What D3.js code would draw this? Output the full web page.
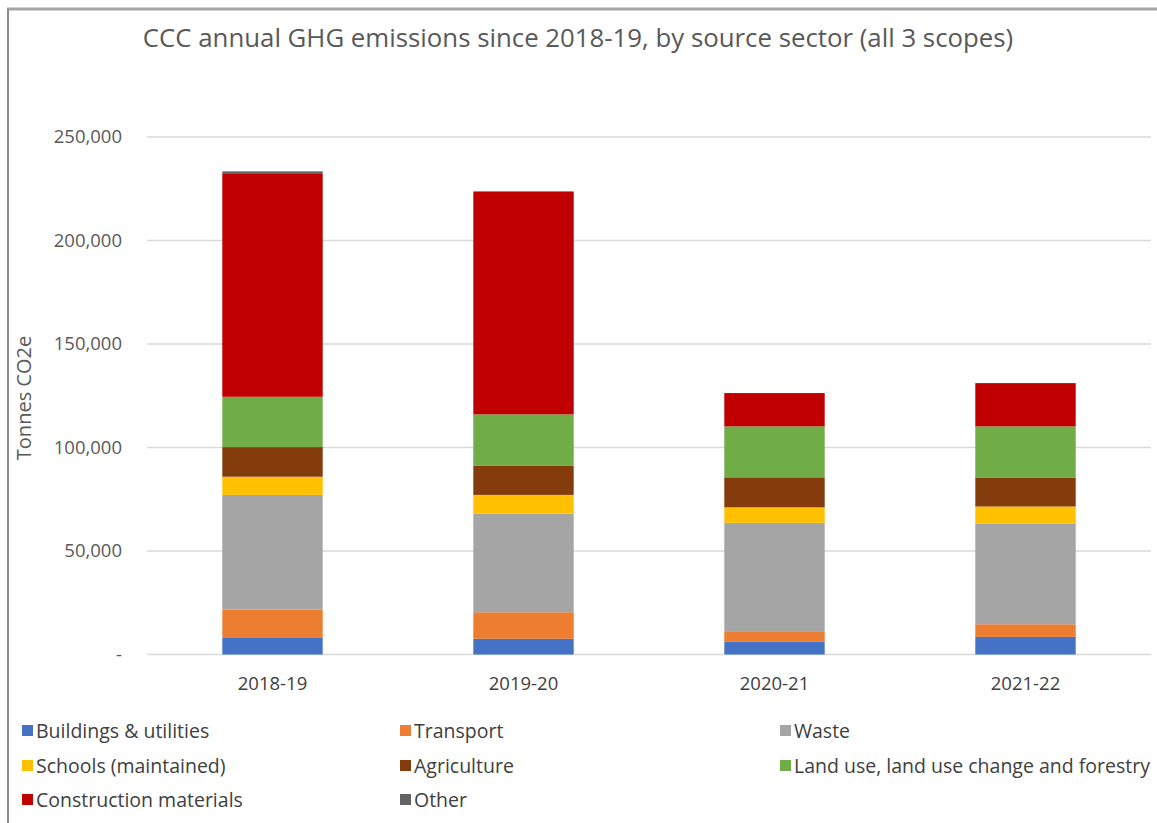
<!DOCTYPE html>
<html>
<head>
<meta charset="utf-8">
<script src="https://cdn.jsdelivr.net/npm/d3@7"></script>
<style>
  body { margin: 0; background: #fff; }
  svg text { font-family: "Open Sans", sans-serif; }
</style>
</head>
<body>
<svg id="chart" width="1157" height="823"></svg>
<script>
// chart data
var years = ["2018-19", "2019-20", "2020-21", "2021-22"];
var sectors = ["Buildings & utilities", "Transport", "Waste", "Schools (maintained)",
               "Agriculture", "Land use, land use change and forestry",
               "Construction materials", "Other"];
var buildings    = [8300, 7600, 6100, 8500];
var transport    = [13400, 12800, 4800, 6100];
var waste        = [55400, 47700, 52700, 48600];
var schools      = [8800, 9000, 7500, 8300];
var agriculture  = [14300, 14000, 14500, 14000];
var landUse      = [24300, 24900, 24600, 24700];
var construction = [108000, 107700, 16100, 20900];
var other        = [900, 0, 0, 0];
var yTicks = [0, 50000, 100000, 150000, 200000, 250000];
var colors = ["#4472C4", "#ED7D31", "#A5A5A5", "#FFC000", "#843C0C", "#70AD47", "#C00000", "#636363"];

var series = [buildings, transport, waste, schools, agriculture, landUse, construction, other];
var table = years.map(function (y, i) {
    var row = { year: y };
    sectors.forEach(function (s, j) { row[s] = series[j][i]; });
    return row;
});

var svg = d3.select("#chart");

// frame
svg.append("rect").attr("x", 0).attr("y", 0).attr("width", 1157).attr("height", 823).attr("fill", "#fff");
svg.append("line").attr("x1", 7).attr("x2", 1157).attr("y1", 9).attr("y2", 9)
    .attr("stroke", "#a6a6a6").attr("stroke-width", 3);
svg.append("line").attr("x1", 8).attr("x2", 8).attr("y1", 9).attr("y2", 823)
    .attr("stroke", "#8c8c8c").attr("stroke-width", 2);

var xScale = d3.scaleBand()
    .domain(years)
    .range([147, 1151])
    .paddingInner(0.6)
    .paddingOuter(0.3);

var yScale = d3.scaleLinear()
    .domain([0, 250000])
    .range([654.5, 137]);

// gridlines
svg.append("g")
    .selectAll("line")
    .data(yTicks)
    .join("line")
    .attr("x1", 147).attr("x2", 1151)
    .attr("y1", function (d) { return yScale(d); })
    .attr("y2", function (d) { return yScale(d); })
    .attr("stroke", "#d9d9d9")
    .attr("stroke-width", 1.5);

// y axis
var yAxis = d3.axisLeft(yScale)
    .tickValues(yTicks)
    .tickSize(0)
    .tickPadding(25)
    .tickFormat(function (d) { return d === 0 ? "-" : d3.format(",")(d); });

var gy = svg.append("g")
    .attr("transform", "translate(147,0)")
    .call(yAxis);
gy.select(".domain").remove();
gy.selectAll("text").attr("font-size", 18.5).attr("fill", "#595959")
    .style("font-family", "'Open Sans', sans-serif");

// x axis
var xAxis = d3.axisBottom(xScale).tickSize(0).tickPadding(22);
var gx = svg.append("g")
    .attr("transform", "translate(0,654.5)")
    .call(xAxis);
gx.select(".domain").remove();
gx.selectAll("text").attr("font-size", 18.5).attr("fill", "#404040")
    .style("font-family", "'Open Sans', sans-serif");

// stacked bars
var stack = d3.stack().keys(sectors);
var layers = stack(table);

svg.append("g")
    .selectAll("g")
    .data(layers)
    .join("g")
    .attr("fill", function (d, i) { return colors[i]; })
    .selectAll("rect")
    .data(function (d) { return d; })
    .join("rect")
    .attr("x", function (d) { return xScale(d.data.year); })
    .attr("width", xScale.bandwidth())
    .attr("y", function (d) { return yScale(d[1]); })
    .attr("height", function (d) { return yScale(d[0]) - yScale(d[1]); });

// title
svg.append("text")
    .attr("x", 578).attr("y", 47)
    .attr("text-anchor", "middle")
    .attr("font-size", 25.8)
    .attr("fill", "#595959")
    .text("CCC annual GHG emissions since 2018-19, by source sector (all 3 scopes)");

// y axis title
svg.append("text")
    .attr("transform", "translate(31,398) rotate(-90)")
    .attr("text-anchor", "middle")
    .attr("font-size", 20)
    .attr("fill", "#595959")
    .text("Tonnes CO2e");

// legend
var legendX = [22, 400, 780];
var legendY = [731, 766, 800];
var legend = svg.append("g")
    .selectAll("g")
    .data(sectors)
    .join("g")
    .attr("transform", function (d, i) {
        return "translate(" + legendX[i % 3] + "," + legendY[Math.floor(i / 3)] + ")";
    });
legend.append("rect")
    .attr("x", 0).attr("y", -6).attr("width", 11).attr("height", 11)
    .attr("fill", function (d, i) { return colors[i]; });
legend.append("text")
    .attr("x", 14).attr("y", 7)
    .attr("font-size", 19.5)
    .attr("fill", "#404040")
    .text(function (d) { return d; });
</script>
</body>
</html>
